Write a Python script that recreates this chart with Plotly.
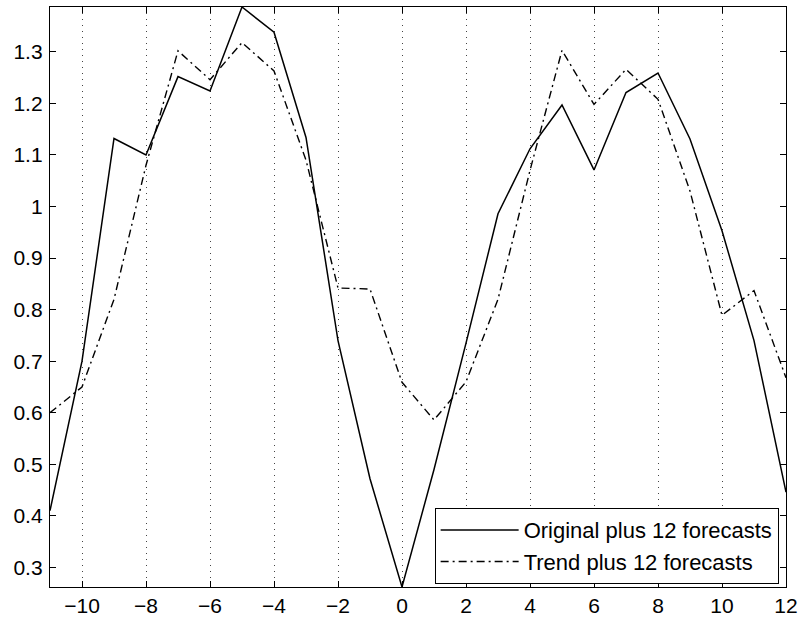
import plotly.graph_objects as go

x_vals = list(range(-11, 13))
original = [0.41, 0.70, 1.132, 1.10, 1.252, 1.224, 1.387, 1.338, 1.134, 0.74,
            0.472, 0.262, 0.49, 0.735, 0.986, 1.112, 1.197, 1.071, 1.221, 1.259,
            1.131, 0.953, 0.74, 0.446]
trend = [0.60, 0.65, 0.82, 1.08, 1.302, 1.246, 1.318, 1.263, 1.09, 0.842,
         0.84, 0.659, 0.586, 0.66, 0.82, 1.07, 1.303, 1.198, 1.266, 1.208,
         1.03, 0.789, 0.837, 0.668]

x_ticks = [-10, -8, -6, -4, -2, 0, 2, 4, 6, 8, 10, 12]
x_tick_text = ["\u221210", "\u22128", "\u22126", "\u22124", "\u22122", "0", "2", "4", "6", "8", "10", "12"]
y_ticks = [0.3, 0.4, 0.5, 0.6, 0.7, 0.8, 0.9, 1.0, 1.1, 1.2, 1.3]
y_tick_text = ["0.3", "0.4", "0.5", "0.6", "0.7", "0.8", "0.9", "1", "1.1", "1.2", "1.3"]

series_names = ["Original plus 12 forecasts", "Trend plus 12 forecasts"]

fig = go.Figure()
fig.add_trace(go.Scatter(x=x_vals, y=original, mode="lines", name=series_names[0],
                         line=dict(color="black", width=1.5)))
fig.add_trace(go.Scatter(x=x_vals, y=trend, mode="lines", name=series_names[1],
                         line=dict(color="black", width=1.4, dash="8px,4px,2px,4px")))

family = "Liberation Sans, Arial, Helvetica, sans-serif"
font = dict(family=family, size=22, color="black")
tick_font = dict(family=family, size=21, color="black")

fig.update_layout(
    width=800, height=619,
    margin=dict(l=50, r=14, t=7, b=32, autoexpand=False),
    paper_bgcolor="white", plot_bgcolor="white",
    font=font,
    showlegend=True,
    legend=dict(x=0.99, y=0.005, xanchor="right", yanchor="bottom",
                bgcolor="white", bordercolor="black", borderwidth=1,
                font=font, itemwidth=78, tracegroupgap=0),
    xaxis=dict(range=[-11, 12], tickmode="array", tickvals=x_ticks, ticktext=x_tick_text,
               showgrid=True, gridcolor="#444", griddash="1px,5px", gridwidth=1,
               zeroline=False, showline=True, linecolor="black", linewidth=1.3,
               mirror="ticks", ticks="inside", ticklen=6, tickcolor="black",
               tickfont=tick_font, automargin=False, ticklabelstandoff=0),
    yaxis=dict(range=[0.262, 1.387], tickmode="array", tickvals=y_ticks, ticktext=y_tick_text,
               showgrid=False, zeroline=False, showline=True, linecolor="black", linewidth=1.3,
               mirror="ticks", ticks="inside", ticklen=6, tickcolor="black",
               tickfont=tick_font, automargin=False, ticklabelstandoff=2),
)

fig.write_html("out.html", config={"displayModeBar": False},
               post_script="document.body.style.margin='0';document.body.style.overflow='hidden';")
